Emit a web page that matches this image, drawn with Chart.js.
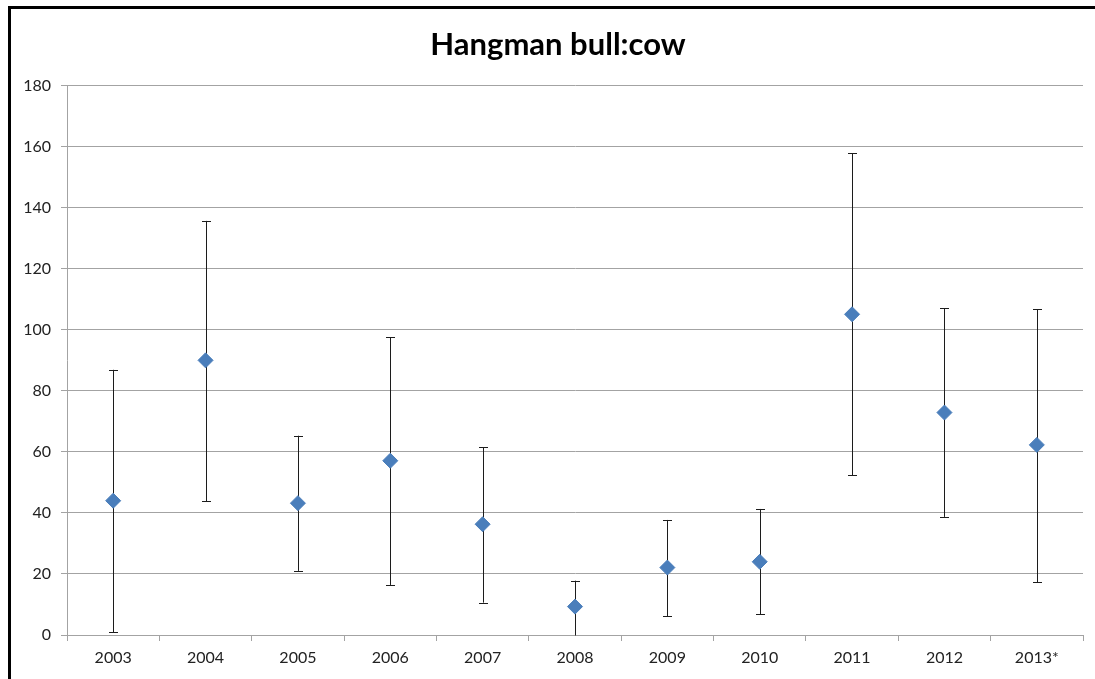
<!DOCTYPE html>
<html>
<head>
<meta charset="utf-8">
<title>Hangman bull:cow</title>
<script src="https://cdn.jsdelivr.net/npm/chart.js@4"></script>
<style>
  html, body { margin: 0; padding: 0; background: #ffffff; }
  #wrap { position: relative; width: 1095px; height: 679px; overflow: hidden; }
  canvas { display: block; }
</style>
</head>
<body>
<div id="wrap"><canvas id="chart" width="1095" height="679"></canvas></div>
<script>
// Survey years
const years = ['2003', '2004', '2005', '2006', '2007', '2008', '2009', '2010', '2011', '2012', '2013*'];
// Bulls per 100 cows (point estimate)
const ratio = [44, 90, 43.2, 57.1, 36.3, 9.3, 22.1, 24, 105.1, 72.9, 62.3];
// Confidence interval bounds
const lowerBound = [0.9, 43.9, 21, 16.4, 10.6, -1, 6.2, 6.8, 52.3, 38.7, 17.3];
const upperBound = [86.9, 135.7, 65.3, 97.6, 61.5, 17.8, 37.7, 41.3, 157.8, 107, 106.8];
// Value axis ticks
const yTicks = [0, 20, 40, 60, 80, 100, 120, 140, 160, 180];

const GRID = '#a3a3a3';
const TEXT = '#222222';
const FONT = 'Lato, "Open Sans", "Liberation Sans", sans-serif';

// Outer frame of the chart object (left and top edges)
const framePlugin = {
  id: 'frame',
  beforeDraw(chart) {
    const ctx = chart.ctx;
    ctx.save();
    ctx.fillStyle = '#ffffff';
    ctx.fillRect(0, 0, chart.width, chart.height);
    ctx.fillStyle = '#000000';
    ctx.fillRect(8, 6, 3, chart.height - 6);
    ctx.fillRect(8, 6, chart.width - 8, 3);
    ctx.restore();
  }
};

// Centre the title on the framed chart object rather than the canvas
const titleShiftPlugin = {
  id: 'titleShift',
  afterLayout(chart) {
    const t = chart.titleBlock;
    if (t) {
      t.left += 11;
      t.width -= 11;
    }
  }
};

// Vertical error bars with caps, drawn beneath the markers
const errorBarPlugin = {
  id: 'errorBars',
  beforeDatasetsDraw(chart) {
    const ctx = chart.ctx;
    const xs = chart.scales.x;
    const ys = chart.scales.y;
    const area = chart.chartArea;
    const cap = 4.5;
    ctx.save();
    ctx.beginPath();
    ctx.rect(area.left, area.top, area.right - area.left, area.bottom - area.top + 0.5);
    ctx.clip();
    ctx.strokeStyle = '#1c1c1c';
    ctx.lineWidth = 1;
    years.forEach((yr, i) => {
      const x = Math.round(xs.getPixelForValue(i)) + 0.5;
      const yLo = ys.getPixelForValue(lowerBound[i]);
      const yHi = ys.getPixelForValue(upperBound[i]);
      ctx.beginPath();
      ctx.moveTo(x, yHi);
      ctx.lineTo(x, yLo);
      ctx.moveTo(x - cap, Math.round(yHi) + 0.5);
      ctx.lineTo(x + cap, Math.round(yHi) + 0.5);
      ctx.moveTo(x - cap, Math.round(yLo) + 0.5);
      ctx.lineTo(x + cap, Math.round(yLo) + 0.5);
      ctx.stroke();
    });
    ctx.restore();
  }
};

new Chart(document.getElementById('chart'), {
  type: 'line',
  data: {
    labels: years,
    datasets: [{
      label: 'Bull:cow',
      data: ratio,
      showLine: false,
      pointStyle: 'rectRot',
      pointRadius: 7.5,
      pointHoverRadius: 7.5,
      pointBackgroundColor: '#4a7ebb',
      pointBorderColor: '#4a7ebb',
      pointBorderWidth: 1
    }]
  },
  options: {
    responsive: false,
    animation: false,
    events: [],
    layout: { padding: { left: 22, right: 12, top: 0, bottom: 0 } },
    plugins: {
      legend: { display: false },
      tooltip: { enabled: false },
      title: {
        display: true,
        text: 'Hangman bull:cow',
        color: '#000000',
        font: { family: FONT, size: 31, weight: 'bold', lineHeight: 1.2 },
        padding: { top: 26, bottom: 22.5 }
      }
    },
    scales: {
      x: {
        type: 'category',
        offset: true,
        grid: {
          offset: true,
          drawOnChartArea: false,
          drawTicks: true,
          tickLength: 6,
          color: GRID
        },
        border: { display: true, color: GRID, width: 1 },
        ticks: {
          color: TEXT,
          font: { family: FONT, size: 16 },
          padding: 7,
          maxRotation: 0,
          autoSkip: false
        },
        afterFit(scale) { scale.height = 44; }
      },
      y: {
        min: yTicks[0],
        max: yTicks[yTicks.length - 1],
        afterBuildTicks(scale) { scale.ticks = yTicks.map(v => ({ value: v })); },
        grid: {
          color: GRID,
          tickLength: 6,
          drawTicks: true
        },
        border: { display: true, color: GRID, width: 1 },
        ticks: {
          color: TEXT,
          font: { family: FONT, size: 16 },
          padding: 10
        },
        afterFit(scale) { scale.width = 45; }
      }
    }
  },
  plugins: [framePlugin, titleShiftPlugin, errorBarPlugin]
});
</script>
</body>
</html>
